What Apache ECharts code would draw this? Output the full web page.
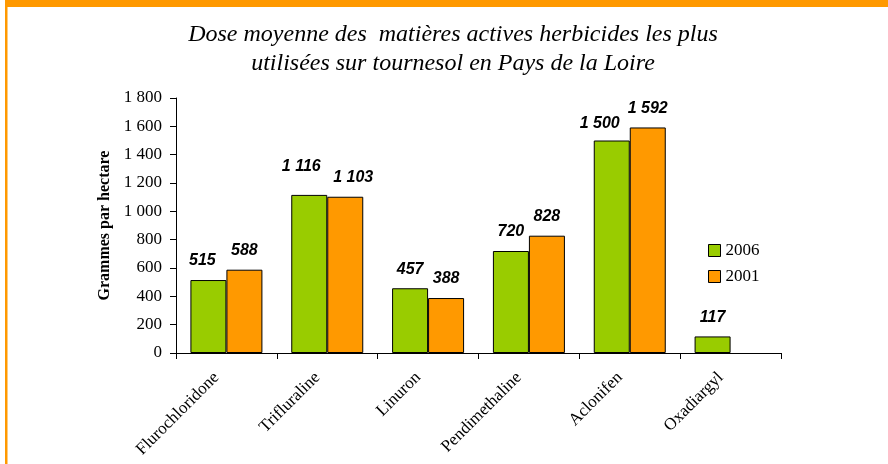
<!DOCTYPE html>
<html>
<head>
<meta charset="utf-8">
<script src="https://cdn.jsdelivr.net/npm/echarts@6/dist/echarts.min.js"></script>
<style>
  html, body { margin: 0; padding: 0; background: #fff; }
  #main { width: 888px; height: 464px; }
</style>
</head>
<body>
<div id="main"></div>
<script>
var categories = ['Flurochloridone', 'Trifluraline', 'Linuron', 'Pendimethaline', 'Aclonifen', 'Oxadiargyl'];
var values2006 = [515, 1116, 457, 720, 1500, 117];
var values2001 = [588, 1103, 388, 828, 1592, '-'];
var yTicks = [0, 200, 400, 600, 800, 1000, 1200, 1400, 1600, 1800];

// nombres avec espace comme séparateur de milliers
function fmt(v) {
    v = Math.round(v);
    if (v < 1000) return String(v);
    var r = String(v % 1000);
    while (r.length < 3) r = '0' + r;
    return Math.floor(v / 1000) + ' ' + r;
}

// petits décalages des étiquettes comme sur l'original
var nudge2006 = [[-6, 0], [-8, -9], [0, 0], [0, 0], [-12, 2], [0, 0]];
var nudge2001 = [[0, 0], [8, 0], [0, 0], [0, 0], [0, 0], [0, 0]];

function withLabels(values, nudges) {
    return values.map(function (v, i) {
        return { value: v, label: { offset: nudges[i] } };
    });
}

var serif = 'Liberation Serif, Times New Roman, serif';

var labelStyle = {
    show: true,
    position: 'top',
    distance: 11,
    fontFamily: 'Liberation Sans, Arial, sans-serif',
    fontStyle: 'italic',
    fontWeight: 'bold',
    fontSize: 16,
    color: '#000',
    formatter: function (p) { return fmt(p.value); }
};

var myChart = echarts.init(document.getElementById('main'));
myChart.setOption({
    backgroundColor: '#fff',
    animation: false,
    title: {
        text: 'Dose moyenne des  matières actives herbicides les plus\nutilisées sur tournesol en Pays de la Loire',
        left: 448,
        textAlign: 'center',
        top: 15,
        textStyle: {
            fontFamily: serif,
            fontStyle: 'italic',
            fontWeight: 'normal',
            fontSize: 24,
            lineHeight: 29,
            color: '#000'
        }
    },
    graphic: [
        { type: 'rect', shape: { x: 5, y: 0, width: 883, height: 7 }, style: { fill: '#FF9900' } },
        { type: 'rect', shape: { x: 5, y: 0, width: 2.5, height: 464 }, style: { fill: '#FF9900' } }
    ],
    legend: {
        orient: 'vertical',
        left: 708,
        top: 242,
        padding: 0,
        icon: 'rect',
        itemWidth: 12,
        itemHeight: 12,
        itemGap: 9,
        data: ['2006', '2001'],
        itemStyle: { borderColor: '#000', borderWidth: 1 },
        textStyle: { fontFamily: serif, fontSize: 17, color: '#000' }
    },
    grid: { left: 176, right: 107, top: 98, bottom: 111 },
    xAxis: {
        type: 'category',
        data: categories,
        axisLine: { lineStyle: { color: '#000', width: 1 } },
        axisTick: { show: true, length: 6, lineStyle: { color: '#000' } },
        axisLabel: {
            rotate: 45,
            margin: 12,
            interval: 0,
            padding: [0, 14, 0, 0],
            fontFamily: serif,
            fontSize: 17,
            color: '#000'
        }
    },
    yAxis: {
        type: 'value',
        min: yTicks[0],
        max: yTicks[yTicks.length - 1],
        interval: 200,
        name: 'Grammes par hectare',
        nameLocation: 'middle',
        nameGap: 63,
        nameTextStyle: { fontFamily: serif, fontWeight: 'bold', fontSize: 16, color: '#000' },
        axisLine: { show: true, lineStyle: { color: '#000', width: 1 } },
        axisTick: { show: true, length: 6, lineStyle: { color: '#000' } },
        splitLine: { show: false },
        axisLabel: { margin: 14, fontFamily: serif, fontSize: 17, color: '#000', formatter: fmt }
    },
    series: [
        {
            name: '2006',
            type: 'bar',
            barWidth: 36,
            barGap: '0%',
            itemStyle: { color: '#99CC00', borderColor: '#000', borderWidth: 1, borderRadius: 0 },
            label: labelStyle,
            data: withLabels(values2006, nudge2006)
        },
        {
            name: '2001',
            type: 'bar',
            barWidth: 36,
            itemStyle: { color: '#FF9900', borderColor: '#000', borderWidth: 1, borderRadius: 0 },
            label: labelStyle,
            data: withLabels(values2001, nudge2001)
        }
    ]
});
</script>
</body>
</html>
